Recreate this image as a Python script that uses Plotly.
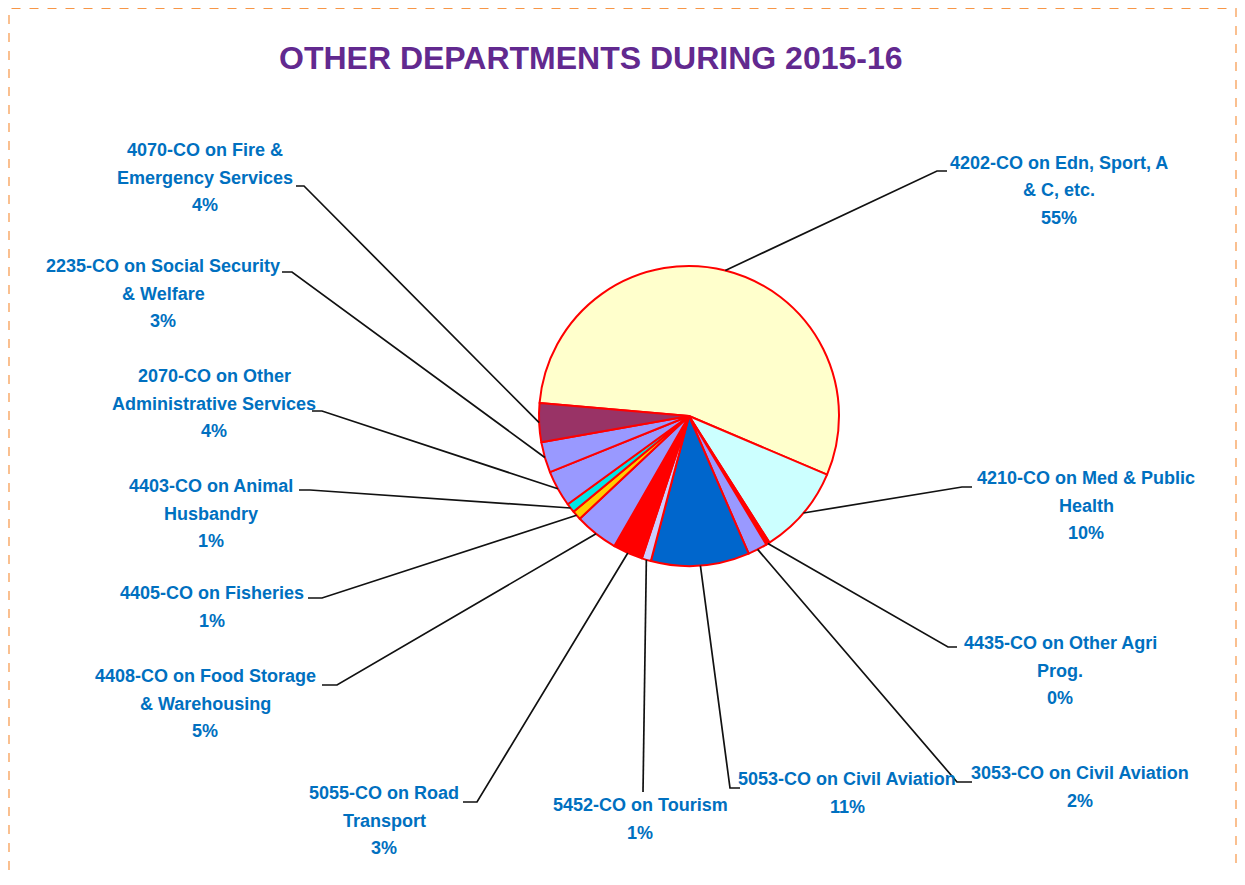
import math
import plotly.graph_objects as go

# ---------------- data ----------------
departments = [
    "4202-CO on Edn, Sport, A<br>& C, etc.",
    "4210-CO on Med & Public<br>Health",
    "4435-CO on Other Agri<br>Prog.",
    "3053-CO on Civil Aviation",
    "5053-CO on Civil Aviation",
    "5452-CO on Tourism",
    "5055-CO on Road<br>Transport",
    "4408-CO on Food Storage<br>& Warehousing",
    "4405-CO on Fisheries",
    "4403-CO on Animal<br>Husbandry",
    "2070-CO on Other<br>Administrative Services",
    "2235-CO on Social Security<br>& Welfare",
    "4070-CO on Fire &<br>Emergency Services",
]
shares = [55.0, 9.6, 0.4, 2.1, 10.6, 1.0, 3.2, 4.7, 1.0, 1.0, 3.9, 3.3, 4.2]
colors = ["#FFFFCC", "#CCFFFF", "#FF0000", "#9999FF", "#0066CC", "#CCCCFF",
          "#FF0000", "#9999FF", "#FFCC00", "#00E5E5", "#9999FF", "#9999FF", "#993366"]

# ---------------- layout geometry (screen pixels) ----------------
OFF = 8  # page body margin
W, H = 1245 - 2 * OFF, 885 - 2 * OFF
CX, CY, R = 689, 416, 150
ROT = -85  # start angle of first slice, clockwise from 12 o'clock
LINE_STEP = 27.5

# label block: (center x, first line center y, tail start x, tail y, elbow x, elbow y)
label_pos = [
    (1059, 163, 947, 171, 937, 171),
    (1086, 478, 972, 487, 962, 487),
    (1060, 643, 957, 647, 948, 647),
    (1080, 773, 972, 782, 957, 782),
    (847, 779, 740, 788, 730, 788),
    (640, 805, 643, 792, 643, 792),
    (384, 793, 463, 802, 477, 802),
    (205, 676, 322, 685, 337, 685),
    (212, 593, 308, 598, 322, 598),
    (211, 486, 299, 490, 310, 490),
    (214, 376, 312, 411, 322, 411),
    (163, 266, 282, 272, 292, 272),
    (205, 150, 296, 186, 304, 186),
]


def px(x):
    return (x - OFF) / W


def py(y):
    return 1 - (y - OFF) / H


fig = go.Figure()
fig.add_trace(go.Pie(
    labels=departments,
    values=shares,
    sort=False,
    direction="clockwise",
    rotation=ROT,
    marker=dict(colors=colors, line=dict(color="#FF0000", width=2)),
    textinfo="none",
    hoverinfo="label+percent",
    showlegend=False,
    domain=dict(x=[px(CX - R), px(CX + R)], y=[py(CY + R), py(CY - R)]),
))

total = sum(shares)
cum = 0.0
shapes = []
annotations = []
label_font = dict(family="Liberation Sans, Arial, sans-serif",
                  size=18, color="#0070C0", weight="bold")
for name, v, pos in zip(departments, shares, label_pos):
    mid = math.radians(ROT + (cum + v / 2) / total * 360)
    cum += v
    ex = CX + R * math.sin(mid)
    ey = CY - R * math.cos(mid)
    lx, ly, tx, ty, bx, by = pos
    shapes.append(dict(
        type="path", xref="paper", yref="paper",
        path=f"M {px(ex)} {py(ey)} L {px(bx)} {py(by)} L {px(tx)} {py(ty)}",
        line=dict(color="#111111", width=1.7),
    ))
    pct = round(v / total * 100)
    lines = name.split("<br>") + [f"{pct}%"]
    for i, t in enumerate(lines):
        annotations.append(dict(
            x=px(lx), y=py(ly + i * LINE_STEP), xref="paper", yref="paper",
            xanchor="center", yanchor="middle", showarrow=False,
            text=t, font=label_font,
        ))

# dashed orange frame (left, top, right)
shapes.append(dict(
    type="path", xref="paper", yref="paper",
    path=f"M {px(9)} {py(870)} L {px(9)} {py(8.5)} L {px(1236)} {py(8.5)} L {px(1236)} {py(870)}",
    line=dict(color="#F79646", width=1.2, dash="dash"),
))

annotations.append(dict(
    x=px(591), y=py(58), xref="paper", yref="paper", xanchor="center", yanchor="middle",
    showarrow=False, text="OTHER DEPARTMENTS DURING 2015-16",
    font=dict(family="Liberation Sans, Arial", size=32, color="#62298F", weight="bold"),
))

fig.update_layout(
    width=W, height=H,
    margin=dict(l=0, r=0, t=0, b=0),
    paper_bgcolor="white",
    plot_bgcolor="white",
    shapes=shapes,
    annotations=annotations,
)

fig.write_html("out.html")
